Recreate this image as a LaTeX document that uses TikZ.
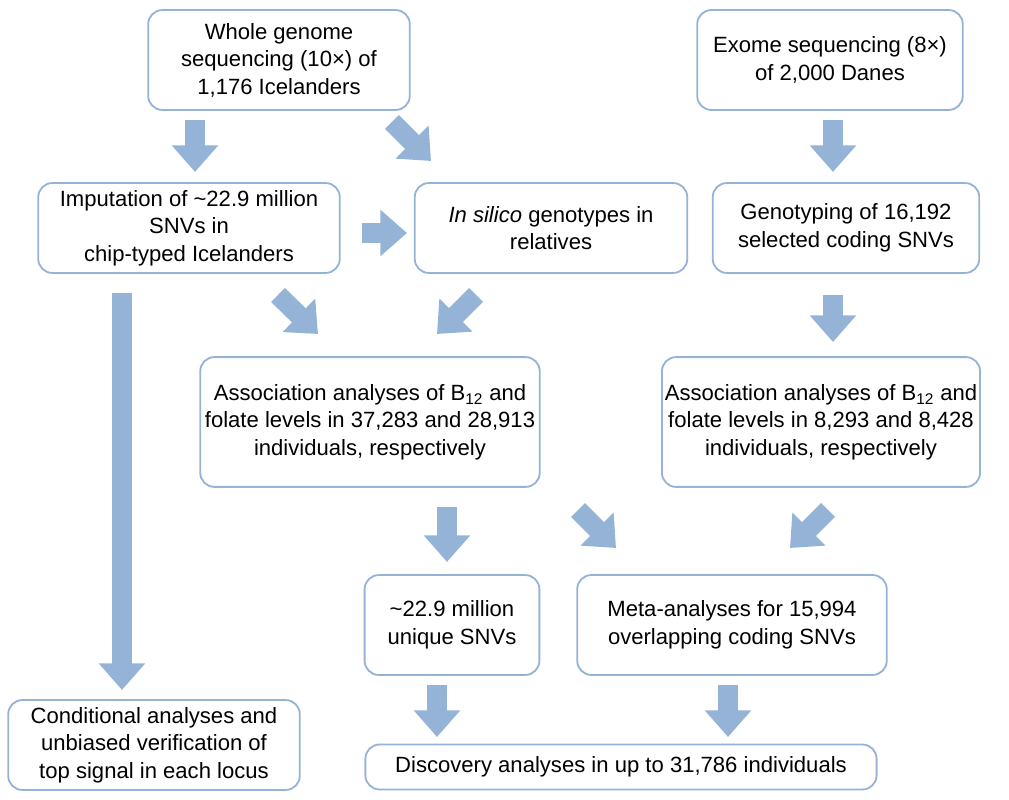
\documentclass[tikz,border=0pt]{standalone}
\usepackage{fontspec}
\setmainfont{Liberation Sans}
\usetikzlibrary{arrows.meta}
\definecolor{flowblue}{RGB}{149,179,215}
\tikzset{
  box/.style={draw=flowblue, line width=1.3pt, rounded corners=10pt, align=center,
    font=\fontsize{15.7}{19.5}\selectfont, inner sep=2pt},
  fat/.style={flowblue, line width=14pt, -{Triangle[width=32pt,length=19pt]}}
}
\begin{document}
\begin{tikzpicture}[x=0.025cm,y=-0.025cm]
\useasboundingbox (0,0) rectangle (1009,800);
% boxes
\node[box, minimum width=262*0.71pt, minimum height=100*0.71pt] (wgs) at (279,60) {Whole genome\\sequencing (10×) of\\1,176 Icelanders};
\node[box, minimum width=266*0.71pt, minimum height=100*0.71pt] (exo) at (830,60) {Exome sequencing (8×)\\of 2,000 Danes};
\node[box, minimum width=302*0.71pt, minimum height=90*0.71pt] (imp) at (189,228) {Imputation of \textasciitilde22.9 million\\SNVs in\\chip-typed Icelanders};
\node[box, minimum width=273*0.71pt, minimum height=90*0.71pt] (sil) at (551,228) {\textit{In silico} genotypes in\\relatives};
\node[box, minimum width=267*0.71pt, minimum height=90*0.71pt] (gty) at (846,228) {Genotyping of 16,192\\selected coding SNVs};
\node[box, minimum width=340*0.71pt, minimum height=130*0.71pt] (asl) at (370,422) {Association analyses of B\textsubscript{12} and\\folate levels in 37,283 and 28,913\\individuals, respectively};
\node[box, minimum width=317*0.71pt, minimum height=130*0.71pt] (asr) at (821,422) {Association analyses of B\textsubscript{12} and\\folate levels in 8,293 and 8,428\\individuals, respectively};
\node[box, minimum width=175*0.71pt, minimum height=100*0.71pt] (uni) at (452,625) {\textasciitilde22.9 million\\unique SNVs};
\node[box, minimum width=310*0.71pt, minimum height=100*0.71pt] (met) at (732,625) {Meta-analyses for 15,994\\overlapping coding SNVs};
\node[box, minimum width=292*0.71pt, minimum height=90*0.71pt] (con) at (154,745) {Conditional analyses and\\unbiased verification of\\top signal in each locus};
\node[box, minimum width=512*0.71pt, minimum height=45*0.71pt] (dis) at (621,767) {Discovery analyses in up to 31,786 individuals};
% arrows
\draw[fat] (195,120) -- (195,172);
\draw[fat] (392,122) -- (431,161);
\draw[fat] (833,120) -- (833,172);
\draw[fat] (362,233) -- (407,233);
\draw[fat] (278,295) -- (318,334);
\draw[fat] (476,295) -- (437,334);
\draw[fat] (833,295) -- (833,342);
\draw[fat] (122,293) -- (122,690);
\draw[fat] (447,507) -- (447,562);
\draw[fat] (578,510) -- (616,548);
\draw[fat] (828,510) -- (790,548);
\draw[fat] (437,685) -- (437,737);
\draw[fat] (728,685) -- (728,737);
\end{tikzpicture}
\end{document}
